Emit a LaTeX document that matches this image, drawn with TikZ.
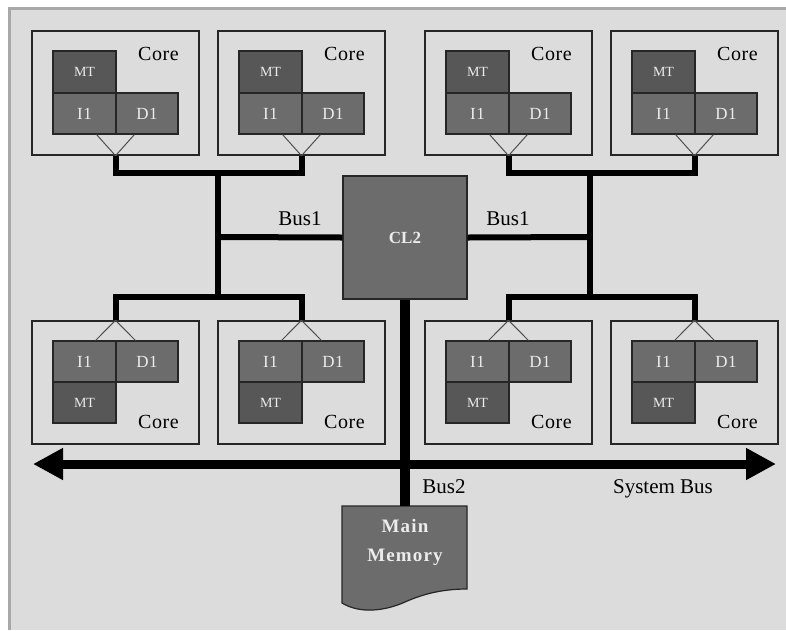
\documentclass[tikz,border=0pt]{standalone}
\usepackage{fontspec}
\setmainfont{Liberation Serif}
\usetikzlibrary{arrows.meta,calc}

\definecolor{panel}{HTML}{DCDCDC}
\definecolor{paneledge}{HTML}{A8A8A8}
\definecolor{blockfill}{HTML}{6C6C6C}
\definecolor{mtfill}{HTML}{575757}
\definecolor{blocktext}{HTML}{ECECEC}
\definecolor{edge}{HTML}{262626}
\definecolor{tap}{HTML}{505050}

\tikzset{
  corebox/.style={draw=edge, line width=1.4pt, minimum width=167pt, minimum height=124pt, inner sep=0pt},
  cell/.style={draw=edge, line width=1.2pt, fill=blockfill, text=blocktext, inner sep=0pt,
               minimum height=41pt, font=\fontsize{17}{20}\selectfont\addfontfeature{LetterSpace=4}},
  mtcell/.style={cell, fill=mtfill, minimum height=42pt, font=\fontsize{14}{16}\selectfont},
  corelabel/.style={anchor=east, inner sep=0pt, font=\fontsize{20}{24}\selectfont\addfontfeature{LetterSpace=3}},
  buslabel/.style={inner sep=0pt, font=\fontsize{21}{24}\selectfont},
  tapline/.style={draw=tap, line width=1pt},
  bus1/.style={draw=black, line width=6pt, line join=miter},
  bus2/.style={draw=black, line width=10pt},
  sysbus/.style={draw=black, line width=9pt,
                 {Triangle[length=30pt,width=30pt]}-{Triangle[length=30pt,width=30pt]}},
  bigblock/.style={draw=edge, line width=1.2pt, fill=blockfill},
}

% core with the cache blocks below the MT block (top row)
\newcommand{\upcore}[2]{%
  \node[corebox] (#1) at (#2+83.5,93) {};
  \node[mtcell, minimum width=63pt] (#1-mt) at (#2+52.5,72) {MT};
  \node[cell, minimum width=63pt] (#1-i) at (#2+52.5,113.5) {I1};
  \node[cell, minimum width=62pt] (#1-d) at (#2+115,113.5) {D1};
  \node[corelabel] (#1-lbl) at (#2+147,54) {Core};
  \draw[tapline] ($(#1-i.south east)+(-20,0)$) -- (#1.south) -- ($(#1-d.south west)+(19,0)$);
}
% core with the cache blocks above the MT block (bottom row)
\newcommand{\downcore}[2]{%
  \node[corebox, minimum height=123pt] (#1) at (#2+83.5,382.5) {};
  \node[cell, minimum width=63pt] (#1-i) at (#2+52.5,361.5) {I1};
  \node[cell, minimum width=62pt] (#1-d) at (#2+115,361.5) {D1};
  \node[mtcell, minimum width=63pt, minimum height=41pt] (#1-mt) at (#2+52.5,402.5) {MT};
  \node[corelabel] (#1-lbl) at (#2+147,422) {Core};
  \draw[tapline] ($(#1-i.north east)+(-21,0)$) -- (#1.north) -- ($(#1-d.north west)+(20,0)$);
}

\begin{document}
\begin{tikzpicture}[x=1pt,y=-1pt]
\useasboundingbox (0,0) rectangle (786,630);

% background panel
\fill[white] (0,0) rectangle (786,630);
\fill[panel] (8,7) rectangle (786,630);
\draw[paneledge, line width=3pt] (9.5,630) -- (9.5,8.5) -- (786,8.5);

% cores
\upcore{ua}{32}
\upcore{ub}{218}
\upcore{uc}{425}
\upcore{ud}{611}
\downcore{da}{32}
\downcore{db}{218}
\downcore{dc}{425}
\downcore{dd}{611}

% shared L2 cache
\node[bigblock, minimum width=124pt, minimum height=123pt, inner sep=0pt,
      text=blocktext, font=\bfseries\fontsize{17}{20}\selectfont] (cl2) at (405,237.5) {CL2};

% main memory
\coordinate (memtop) at (405,506);
\path[bigblock] (342,506) -- (467,506) -- (467,589)
  .. controls (445,589) and (425,593) .. (405,602)
  .. controls (385,611) and (360,614) .. (342,603) -- cycle;
\node[text=blocktext, align=center, inner sep=0pt,
      font=\bfseries\fontsize{19}{29}\selectfont\addfontfeature{LetterSpace=6}] (mem) at (405,542) {Main\\Memory};

% junctions of the Bus1 trees
\coordinate (jtl) at (218,173);
\coordinate (jml) at (218,237);
\coordinate (jbl) at (218,297);
\coordinate (jtr) at (590,173);
\coordinate (jmr) at (590,237);
\coordinate (jbr) at (590,297);

% left Bus1 tree
\draw[bus1] (ua.south) |- (jtl) -| (ub.south);
\draw[bus1] (da.north) |- (jbl) -| (db.north);
\draw[bus1] (jtl) -- (jbl);
\draw[bus1] (jml) -- (cl2.west);

% right Bus1 tree
\draw[bus1] (uc.south) |- (jtr) -| (ud.south);
\draw[bus1] (dc.north) |- (jbr) -| (dd.north);
\draw[bus1] (jtr) -- (jbr);
\draw[bus1] (jmr) -- (cl2.east);

% system bus and Bus2
\coordinate (sbl) at (33,464);
\coordinate (sbr) at (776,464);
\draw[sysbus] (sbl) -- (sbr);
\draw[bus2] (cl2.south) -- (memtop);

% bus labels
\node[buslabel] (lb1) at (300,219) {Bus1};
\node[buslabel] (rb1) at (508,219) {Bus1};
\node[buslabel] (lb2) at (444,487) {Bus2};
\node[buslabel] (lsb) at (663,489) {System Bus};
\end{tikzpicture}
\end{document}
